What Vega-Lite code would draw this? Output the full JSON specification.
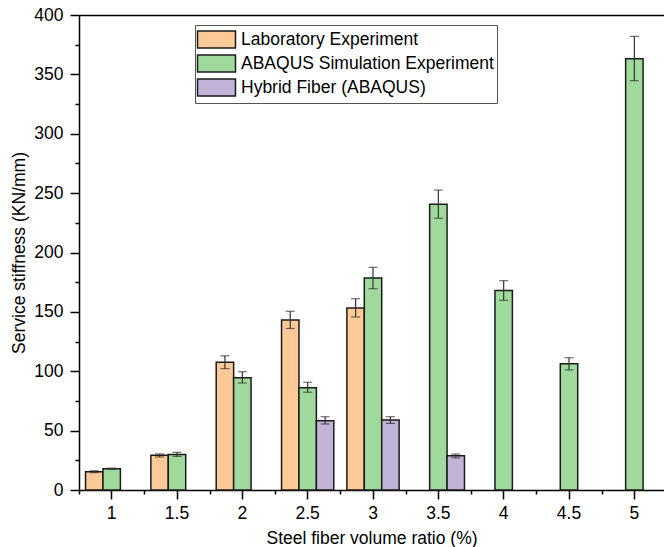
{
  "$schema": "https://vega.github.io/schema/vega-lite/v6.json",
  "autosize": {"type": "none"},
  "padding": {"left": 79, "top": 15, "right": 0, "bottom": 57},
  "width": 585,
  "height": 475,
  "config": {
    "font": "Liberation Sans",
    "view": {"stroke": null},
    "axis": {
      "labelFont": "Liberation Sans",
      "titleFont": "Liberation Sans",
      "labelFontSize": 17.5,
      "titleFontSize": 17.5,
      "titleFontWeight": "normal",
      "labelColor": "#000000",
      "titleColor": "#000000",
      "domainColor": "#000000",
      "tickColor": "#000000",
      "domainWidth": 1.5,
      "tickWidth": 1.5,
      "grid": false
    },
    "legend": {
      "labelFont": "Liberation Sans",
      "labelFontSize": 17.5,
      "labelColor": "#000000"
    }
  },
  "data": {
    "values": [
      {"cat": "1", "series": "Laboratory Experiment", "value": 15.4, "lo": 14.6, "hi": 16.2},
      {"cat": "1.5", "series": "Laboratory Experiment", "value": 29.2, "lo": 27.8, "hi": 30.4},
      {"cat": "2", "series": "Laboratory Experiment", "value": 107.5, "lo": 102.2, "hi": 113.0},
      {"cat": "2.5", "series": "Laboratory Experiment", "value": 143.2, "lo": 136.0, "hi": 150.5},
      {"cat": "3", "series": "Laboratory Experiment", "value": 153.3, "lo": 145.7, "hi": 161.1},
      {"cat": "1", "series": "ABAQUS Simulation Experiment", "value": 17.9, "lo": 17.4, "hi": 18.4},
      {"cat": "1.5", "series": "ABAQUS Simulation Experiment", "value": 30.0, "lo": 28.3, "hi": 31.7},
      {"cat": "2", "series": "ABAQUS Simulation Experiment", "value": 94.6, "lo": 90.1, "hi": 99.6},
      {"cat": "2.5", "series": "ABAQUS Simulation Experiment", "value": 86.2, "lo": 82.3, "hi": 90.7},
      {"cat": "3", "series": "ABAQUS Simulation Experiment", "value": 178.5, "lo": 169.5, "hi": 187.5},
      {"cat": "3.5", "series": "ABAQUS Simulation Experiment", "value": 240.6, "lo": 228.8, "hi": 252.6},
      {"cat": "4", "series": "ABAQUS Simulation Experiment", "value": 167.9, "lo": 159.7, "hi": 176.3},
      {"cat": "4.5", "series": "ABAQUS Simulation Experiment", "value": 106.4, "lo": 101.1, "hi": 111.4},
      {"cat": "5", "series": "ABAQUS Simulation Experiment", "value": 363.2, "lo": 344.7, "hi": 382.0},
      {"cat": "2.5", "series": "Hybrid Fiber (ABAQUS)", "value": 58.4, "lo": 55.6, "hi": 61.7},
      {"cat": "3", "series": "Hybrid Fiber (ABAQUS)", "value": 58.9, "lo": 56.1, "hi": 61.7},
      {"cat": "3.5", "series": "Hybrid Fiber (ABAQUS)", "value": 28.9, "lo": 27.1, "hi": 30.3}
    ]
  },
  "layer": [
    {
      "mark": {"type": "bar", "stroke": "#1a1a1a", "strokeWidth": 1.5, "opacity": 1},
      "encoding": {
        "x": {
          "field": "cat", "type": "nominal",
          "scale": {"domain": ["1", "1.5", "2", "2.5", "3", "3.5", "4", "4.5", "5"], "paddingInner": 0.2, "paddingOuter": 0.077, "align": 0.65},
          "axis": {"orient": "bottom", "title": "Steel fiber volume ratio (%)", "labelAngle": 0, "tickSize": 9, "labelPadding": 5, "titlePadding": 8}
        },
        "xOffset": {
          "field": "series", "type": "nominal",
          "scale": {"domain": ["Laboratory Experiment", "ABAQUS Simulation Experiment", "Hybrid Fiber (ABAQUS)"], "paddingInner": 0, "paddingOuter": 0}
        },
        "y": {
          "field": "value", "type": "quantitative",
          "scale": {"domain": [0, 400], "nice": false},
          "axis": {"orient": "left", "title": "Service stiffness (KN/mm)", "values": [0, 50, 100, 150, 200, 250, 300, 350, 400], "tickSize": 9, "labelPadding": 7, "titlePadding": 5}
        },
        "color": {
          "field": "series", "type": "nominal",
          "scale": {"domain": ["Laboratory Experiment", "ABAQUS Simulation Experiment", "Hybrid Fiber (ABAQUS)"], "range": ["#FDC997", "#9FDA9C", "#C2B3D9"]},
          "legend": {
            "title": null, "orient": "none", "legendX": 116, "legendY": 10,
            "padding": 3, "strokeColor": "#555555", "fillColor": "#ffffff",
            "rowPadding": -11, "labelOffset": 13, "symbolOffset": 7, "labelLimit": 500,
            "symbolType": "M-1.767,-0.8L1.767,-0.8L1.767,0.8L-1.767,0.8Z",
            "symbolSize": 462, "symbolStrokeColor": "#1a1a1a", "symbolStrokeWidth": 1.5, "symbolOpacity": 1
          }
        }
      }
    },
    {
      "mark": {"type": "rule", "color": "#333333", "strokeWidth": 1.2},
      "encoding": {
        "x": {"field": "cat", "type": "nominal", "axis": {"orient": "top", "labels": false, "ticks": false, "title": null}},
        "xOffset": {"field": "series", "type": "nominal"},
        "y": {"field": "lo", "type": "quantitative", "axis": {"orient": "left", "values": [25, 75, 125, 175, 225, 275, 325, 375], "labels": false, "domain": false, "tickSize": 4, "title": null}},
        "y2": {"field": "hi"}
      }
    },
    {
      "mark": {"type": "tick", "color": "#333333", "thickness": 1.2, "size": 9},
      "encoding": {
        "x": {"field": "cat", "type": "nominal", "axis": {"orient": "bottom", "labels": false, "domain": false, "tickSize": 4, "bandPosition": 0, "tickOffset": -6.53, "title": null}},
        "xOffset": {"field": "series", "type": "nominal"},
        "y": {"field": "lo", "type": "quantitative", "axis": null}
      }
    },
    {
      "mark": {"type": "tick", "color": "#333333", "thickness": 1.2, "size": 9},
      "encoding": {
        "x": {"field": "cat", "type": "nominal", "axis": null},
        "xOffset": {"field": "series", "type": "nominal"},
        "y": {"field": "hi", "type": "quantitative", "axis": null}
      }
    }
  ],
  "resolve": {"axis": {"x": "independent", "y": "independent"}}
}
